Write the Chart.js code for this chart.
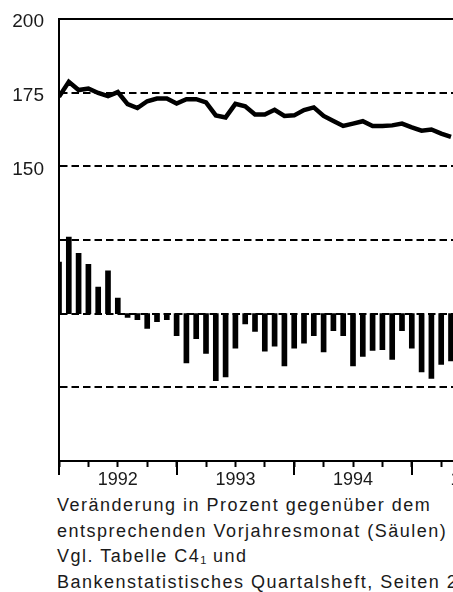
<!DOCTYPE html>
<html>
<head>
<meta charset="utf-8">
<script src="https://cdn.jsdelivr.net/npm/chart.js@4/dist/chart.umd.min.js"></script>
<style>
  body { margin: 0; width: 453px; height: 592px; overflow: hidden; position: relative; background: #fff; }
  #wrap { position: absolute; left: 0; top: 0; width: 540px; height: 490px; }
  #note { position: absolute; left: 57px; top: 493px; font-family: 'Liberation Sans', Arial, sans-serif;
          font-size: 18px; letter-spacing: 1.5px; line-height: 25.7px; white-space: nowrap; color: #1a1a1a; }
  #note .sub { font-size: 11px; position: relative; top: 2px; letter-spacing: 0; line-height: 0; }
</style>
</head>
<body>
<div id="wrap"><canvas id="chart" width="540" height="490"></canvas></div>
<div id="note">
  Veränderung in Prozent gegenüber dem<br>
  entsprechenden Vorjahresmonat (Säulen)<br>
  Vgl. Tabelle C4<span class="sub">1</span> und<br>
  Bankenstatistisches Quartalsheft, Seiten 2
</div>
<script>
// Monate (Dez. 1991 bis Apr. 1995)
const months = ['12.91',
  '01.92', '02.92', '03.92', '04.92', '05.92', '06.92', '07.92', '08.92', '09.92', '10.92', '11.92', '12.92',
  '01.93', '02.93', '03.93', '04.93', '05.93', '06.93', '07.93', '08.93', '09.93', '10.93', '11.93', '12.93',
  '01.94', '02.94', '03.94', '04.94', '05.94', '06.94', '07.94', '08.94', '09.94', '10.94', '11.94', '12.94',
  '01.95', '02.95', '03.95', '04.95'];

// Linie (linke Skala)
const levelValues = [173.6, 178.7, 175.9, 176.4, 174.9, 173.8, 175.2, 171.1, 169.8, 172.1,
  173.0, 173.0, 171.3, 172.8, 172.8, 171.7, 167.3, 166.6, 171.2, 170.4,
  167.6, 167.6, 169.2, 167.1, 167.3, 169.1, 170.0, 167.1, 165.4, 163.7,
  164.5, 165.3, 163.7, 163.7, 163.9, 164.5, 163.2, 162.1, 162.5, 161.1, 160.0];

// Säulen: Veränderung gegenüber Vorjahresmonat in %
const changeValues = [7.0, 10.4, 8.2, 6.7, 3.6, 5.8, 2.1, -0.5, -0.8, -2.0,
  -1.1, -0.8, -3.0, -6.7, -3.4, -5.4, -9.1, -8.6, -4.7, -1.4,
  -2.4, -5.1, -4.4, -7.1, -4.7, -4.0, -3.0, -5.2, -2.3, -3.0,
  -7.1, -5.8, -5.0, -4.9, -6.2, -2.3, -4.7, -7.9, -8.8, -6.9, -6.4];

const yearLabels = ['1992', '1993', '1994', '1995'];
const levelTicks = [200, 175, 150];

Chart.defaults.font.family = "'Liberation Sans', Arial, sans-serif";
Chart.defaults.color = '#1a1a1a';

// lange Striche an den Jahresgrenzen + obere Rahmenlinie
const yearTicks = {
  id: 'yearTicks',
  afterDraw(chart) {
    const ctx = chart.ctx, x = chart.scales.x, area = chart.chartArea;
    ctx.save();
    ctx.strokeStyle = '#000';
    ctx.lineWidth = 2;
    ctx.beginPath();
    ctx.moveTo(area.left - 1, area.top);
    ctx.lineTo(area.right, area.top);
    ctx.stroke();
    for (let m = 0; m <= 48; m += 12) {
      const px = Math.round(x.getPixelForValue(m));
      ctx.beginPath();
      ctx.moveTo(px, area.bottom);
      ctx.lineTo(px, area.bottom + 14);
      ctx.stroke();
    }
    ctx.restore();
  }
};

new Chart(document.getElementById('chart'), {
  data: {
    datasets: [{
      type: 'line',
      data: levelValues.map((v, i) => ({x: i, y: v})),
      yAxisID: 'y',
      borderColor: '#000',
      borderWidth: 4.5,
      pointRadius: 0,
      tension: 0
    }, {
      type: 'bar',
      data: changeValues.map((v, i) => ({x: i, y: v})),
      yAxisID: 'y2',
      backgroundColor: '#000',
      barThickness: 5
    }]
  },
  options: {
    responsive: false,
    animation: false,
    devicePixelRatio: 1,
    layout: { padding: { top: 19, right: 10.6, left: 0, bottom: 0 } },
    plugins: { legend: { display: false }, tooltip: { enabled: false } },
    scales: {
      x: {
        type: 'linear',
        offset: false,
        min: 0,
        max: 48,
        afterBuildTicks: (scale) => {
          const t = [];
          for (let m = 0; m <= 48; m += 3) t.push({ value: m });
          scale.ticks = t;
        },
        afterFit: (scale) => { scale.height = 29; },
        ticks: {
          autoSkip: false,
          maxRotation: 0,
          padding: 2,
          font: { size: 18 },
          callback: (v) => (v % 12 === 6 ? yearLabels[(v - 6) / 12] : '')
        },
        grid: { offset: false, drawOnChartArea: false, drawTicks: true, tickLength: 6, tickWidth: 2, tickColor: '#000' },
        border: { display: true, color: '#000', width: 2 }
      },
      y: {
        min: 50,
        max: 200,
        ticks: {
          stepSize: 25,
          padding: 15,
          labelOffset: 3,
          font: { size: 19 },
          callback: (v) => (levelTicks.includes(v) ? String(v) : '')
        },
        afterFit: (scale) => {
          scale.width = 59;
          scale.paddingTop = 0;
          scale.paddingBottom = 0;
        },
        grid: {
          drawTicks: false,
          lineWidth: 2,
          color: (c) => (c.tick && (c.tick.value === 200 || c.tick.value === 50) ? 'rgba(0,0,0,0)' : '#000')
        },
        border: { display: true, color: '#000', width: 2, dash: [7.5, 4] }
      },
      y2: {
        display: false,
        min: -20,
        max: 40
      }
    }
  },
  plugins: [yearTicks]
});
</script>
</body>
</html>
